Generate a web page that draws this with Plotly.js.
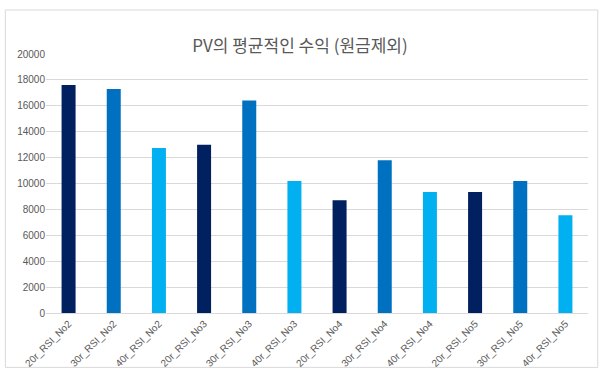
<!DOCTYPE html>
<html><head><meta charset="utf-8">
<script src="https://cdn.plot.ly/plotly-3.0.1.min.js"></script>
<style>html,body{margin:0;padding:0;background:#fff}#c{width:600px;height:380px}</style>
</head><body><div id="c"></div>
<script>
const categories = ["20r_RSI_No2","30r_RSI_No2","40r_RSI_No2","20r_RSI_No3","30r_RSI_No3","40r_RSI_No3","20r_RSI_No4","30r_RSI_No4","40r_RSI_No4","20r_RSI_No5","30r_RSI_No5","40r_RSI_No5"];
const values = [17600, 17300, 12750, 13000, 16400, 10200, 8700, 11800, 9350, 9350, 10200, 7550];
const barColors = ["#002060","#0070C0","#00B0F0","#002060","#0070C0","#00B0F0","#002060","#0070C0","#00B0F0","#002060","#0070C0","#00B0F0"];
const yTicks = [0,2000,4000,6000,8000,10000,12000,14000,16000,18000,20000];
const yTickText = ["0","2000","4000","6000","8000","10000","12000","14000","16000","18000","20000"];

Plotly.newPlot('c', [{
  type: 'bar',
  x: categories,
  y: values,
  marker: {color: barColors},
  hoverinfo: 'x+y'
}], {
  width: 600, height: 380,
  margin: {l: 46, r: 12, t: 54, b: 67},
  paper_bgcolor: '#fff', plot_bgcolor: '#fff',
  bargap: 0.69,
  title: {text: 'PV의 평균적인 수익 (원금제외)', x: 0.5, xanchor: 'center', y: 0.88, yanchor: 'middle',
    font: {family: '"Noto Sans CJK KR", "Noto Sans", sans-serif', size: 17, color: '#595959'}},
  xaxis: {type: 'category', tickangle: -45, showgrid: false, showline: true, linecolor: '#D9D9D9', linewidth: 1,
    ticks: '', tickfont: {family: '"Liberation Sans", Arial, sans-serif', size: 10, color: '#595959'}},
  yaxis: {range: [0, 20000], tickvals: yTicks, ticktext: yTickText, showgrid: true, gridcolor: '#D9D9D9', gridwidth: 1,
    zeroline: false, showline: false, ticks: '', ticklen: 0,
    tickfont: {family: '"Liberation Sans", Arial, sans-serif', size: 10, color: '#595959'}},
  shapes: [{type: 'rect', xref: 'paper', yref: 'paper', x0: -0.075, x1: 1.018, y0: -0.21, y1: 1.17,
    line: {color: '#D9D9D9', width: 1}}],
  showlegend: false
}, {displayModeBar: false});
</script></body></html>
